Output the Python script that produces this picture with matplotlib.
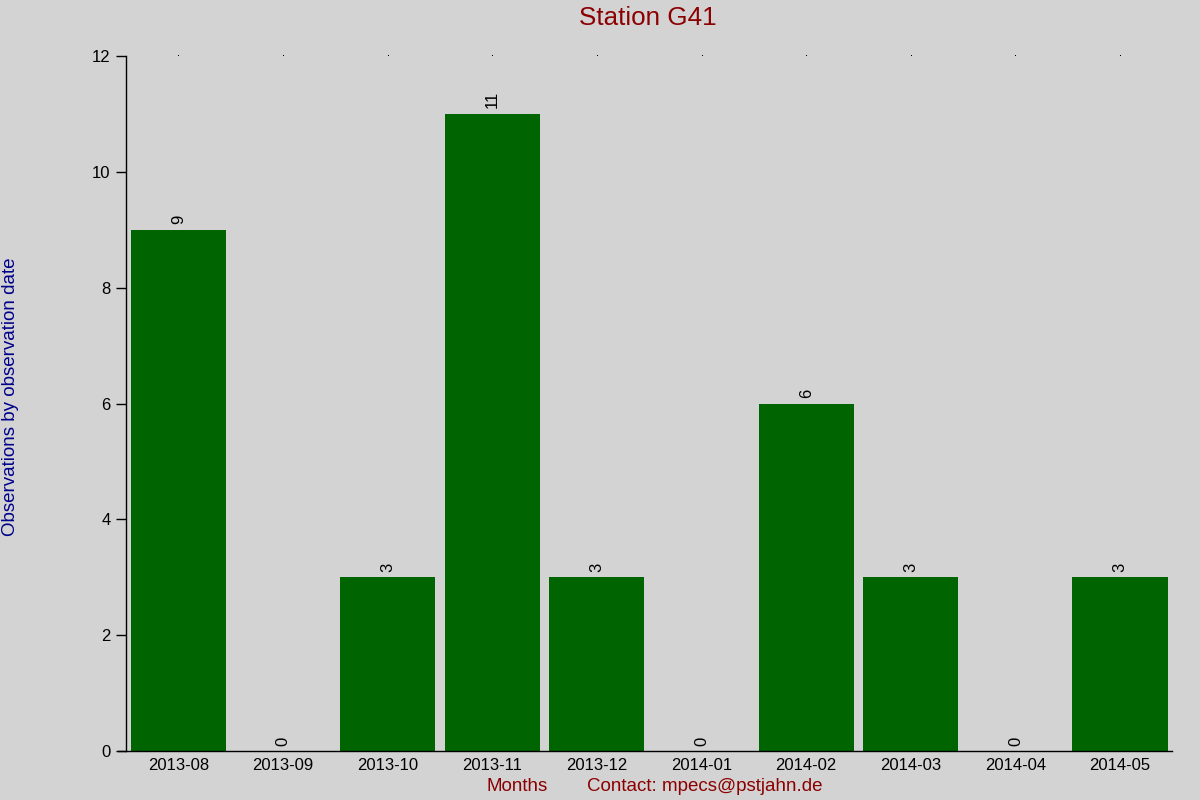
import matplotlib
matplotlib.use('Agg')
import matplotlib.pyplot as plt
import numpy as np

plt.rcParams['font.family'] = ['Liberation Sans', 'DejaVu Sans']

months = ['2013-08', '2013-09', '2013-10', '2013-11', '2013-12',
          '2014-01', '2014-02', '2014-03', '2014-04', '2014-05']
counts = [9, 0, 3, 11, 3, 0, 6, 3, 0, 3]
y_ticks = [0, 2, 4, 6, 8, 10, 12]

bg = '#d3d3d3'
fig = plt.figure(figsize=(12, 8), dpi=100, facecolor=bg)
ax = fig.add_axes([0.105, 0.061, 0.872, 0.869], facecolor=bg)

x = np.arange(len(months))
ax.bar(x, counts, width=0.91, color='#006400')

# value labels above bars
for xi, c in zip(x, counts):
    ax.annotate(str(c), (xi, c), xytext=(0, 4), textcoords='offset points',
                rotation=90, ha='center', va='bottom', fontsize=12, color='black')

# little dots along the top
ax.plot(x, [12] * len(x), linestyle='none', marker=',', color='black', clip_on=False)

ax.set_xlim(-0.5, len(months) - 0.5)
ax.set_ylim(0, 12)
ax.set_yticks(y_ticks)
ax.set_xticks(x)
ax.set_xticklabels(months)
ax.tick_params(axis='y', length=7, width=1, labelsize=12, pad=4)
ax.tick_params(axis='x', length=0, labelsize=12, pad=5)

for s in ['top', 'right']:
    ax.spines[s].set_visible(False)
ax.spines['left'].set_linewidth(1)
ax.spines['bottom'].set_linewidth(1)
ax.spines['bottom'].set_bounds(-0.575, len(months) - 0.5)

fig.text(0.54, 0.977, 'Station G41', color='#8b0000', fontsize=18.7, ha='center', va='center')
fig.text(0.009, 0.504, 'Observations by observation date', color='#00008b', fontsize=13.5,
         rotation=90, ha='center', va='center')
fig.text(0.431, 0.017, 'Months', color='#8b0000', fontsize=13.5, ha='center', va='center')
fig.text(0.587, 0.017, 'Contact: mpecs@pstjahn.de', color='#8b0000', fontsize=13.5,
         ha='center', va='center')

fig.savefig('out.png', dpi=100, facecolor=bg)
